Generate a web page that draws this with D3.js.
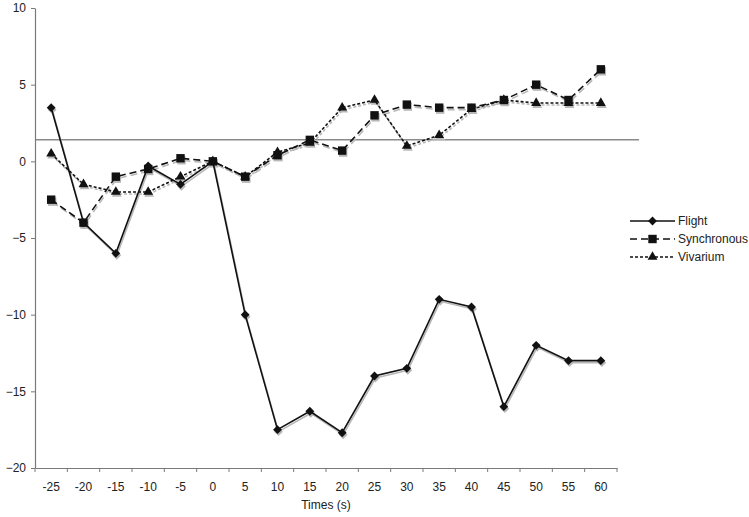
<!DOCTYPE html>
<html>
<head>
<meta charset="utf-8">
<script src="https://cdn.jsdelivr.net/npm/d3@7"></script>
<style>
  body { margin: 0; background: #fff; }
  text { font-family: "Liberation Sans", Arial, sans-serif; }
</style>
</head>
<body>
<div id="chart"></div>
<script>
// chart data
const times = [-25, -20, -15, -10, -5, 0, 5, 10, 15, 20, 25, 30, 35, 40, 45, 50, 55, 60];
const flight = [3.5, -4, -6, -0.3, -1.5, 0, -10, -17.5, -16.3, -17.7, -14, -13.5, -9, -9.5, -16, -12, -13, -13];
const synchronous = [-2.5, -4, -1, -0.5, 0.2, 0, -1, 0.4, 1.4, 0.7, 3, 3.7, 3.5, 3.5, 4, 5, 4, 6];
const vivarium = [0.5, -1.5, -2, -2, -1, 0, -1, 0.6, 1.2, 3.5, 4, 1, 1.7, 3.4, 4, 3.8, 3.8, 3.8];
const yTicks = [10, 5, 0, -5, -10, -15, -20];
const refLine = 1.4;

const series = [
    { name: 'Flight', values: flight, dash: null, marker: 'diamond' },
    { name: 'Synchronous', values: synchronous, dash: '7,4', marker: 'square' },
    { name: 'Vivarium', values: vivarium, dash: '3,2', marker: 'triangle' }
];

const width = 749, height = 517;
const margin = { top: 8, right: 132, bottom: 49, left: 35 };
const chartW = width - margin.left - margin.right;
const chartH = height - margin.top - margin.bottom;

const svg = d3.select('#chart').append('svg')
    .attr('width', width)
    .attr('height', height);

const g = svg.append('g')
    .attr('transform', `translate(${margin.left},${margin.top})`);

const x = d3.scaleBand().domain(times).range([0, chartW]);
const y = d3.scaleLinear().domain([-20, 10]).range([chartH, 0]);
const cx = d => x(d) + x.bandwidth() / 2;

const axisColor = '#7a7a7a';

// reference line
g.append('line')
    .attr('x1', 0).attr('x2', chartW + 22)
    .attr('y1', y(refLine)).attr('y2', y(refLine))
    .attr('stroke', '#8a8a8a').attr('stroke-width', 1.5);

// axes
const yAxis = g.append('g').call(d3.axisLeft(y).tickValues(yTicks).tickSize(4).tickPadding(5).tickSizeOuter(0));
const xAxis = g.append('g')
    .attr('transform', `translate(0,${chartH})`)
    .call(d3.axisBottom(x).tickSize(0).tickPadding(14));
// Excel style ticks between categories
xAxis.selectAll('.between').data(d3.range(times.length + 1)).enter()
    .append('line')
    .attr('x1', i => i * x.step()).attr('x2', i => i * x.step())
    .attr('y1', 0).attr('y2', 4)
    .attr('stroke', axisColor);

[xAxis, yAxis].forEach(a => {
    a.select('.domain').attr('stroke', axisColor).attr('stroke-width', 1.2);
    a.selectAll('.tick line').attr('stroke', axisColor);
    a.selectAll('.tick text')
        .attr('fill', '#222')
        .style('font-size', '12px')
        .style('font-family', '"Liberation Sans", Arial, sans-serif');
});

g.append('text')
    .attr('x', chartW / 2)
    .attr('y', chartH + 41)
    .attr('text-anchor', 'middle')
    .attr('fill', '#222')
    .style('font-size', '12px')
    .text('Times (s)');

// marker shapes
const symbolFor = {
    diamond: d3.symbol().type(d3.symbolSquare2).size(50),
    square: d3.symbol().type(d3.symbolSquare2).size(90),
    triangle: d3.symbol().type(d3.symbolTriangle2).size(70)
};

function drawMarker(sel, s, px, py, color) {
    const p = sel.append('path')
        .attr('d', symbolFor[s.marker]())
        .attr('fill', color);
    if (s.marker === 'diamond') p.attr('transform', `translate(${px},${py}) rotate(45)`);
    else p.attr('transform', `translate(${px},${py})`);
}

const line = d3.line()
    .x((d, i) => cx(times[i]))
    .y(d => y(d));

// shadow pass then main pass
[{ dx: 1, dy: 2, color: '#b8b8b8' }, { dx: 0, dy: 0, color: '#111' }].forEach(pass => {
    const layer = g.append('g').attr('transform', `translate(${pass.dx},${pass.dy})`);
    series.slice().reverse().forEach(s => {
        layer.append('path')
            .datum(s.values)
            .attr('d', line)
            .attr('fill', 'none')
            .attr('stroke', pass.color)
            .attr('stroke-width', 1.6)
            .attr('stroke-dasharray', s.dash);
        s.values.forEach((v, i) => drawMarker(layer, s, cx(times[i]), y(v), pass.color));
    });
});

// legend
const legend = svg.append('g').attr('transform', 'translate(630,221)');
series.forEach((s, i) => {
    const row = legend.append('g').attr('transform', `translate(0,${i * 18})`);
    row.append('line')
        .attr('x1', 0).attr('x2', 45)
        .attr('stroke', '#111').attr('stroke-width', 1.3)
        .attr('stroke-dasharray', s.dash);
    drawMarker(row, s, 22.5, 0, '#111');
    row.append('text')
        .attr('x', 48)
        .attr('y', 4)
        .attr('fill', '#222')
        .style('font-size', '12px')
        .text(s.name);
});
</script>
</body>
</html>
